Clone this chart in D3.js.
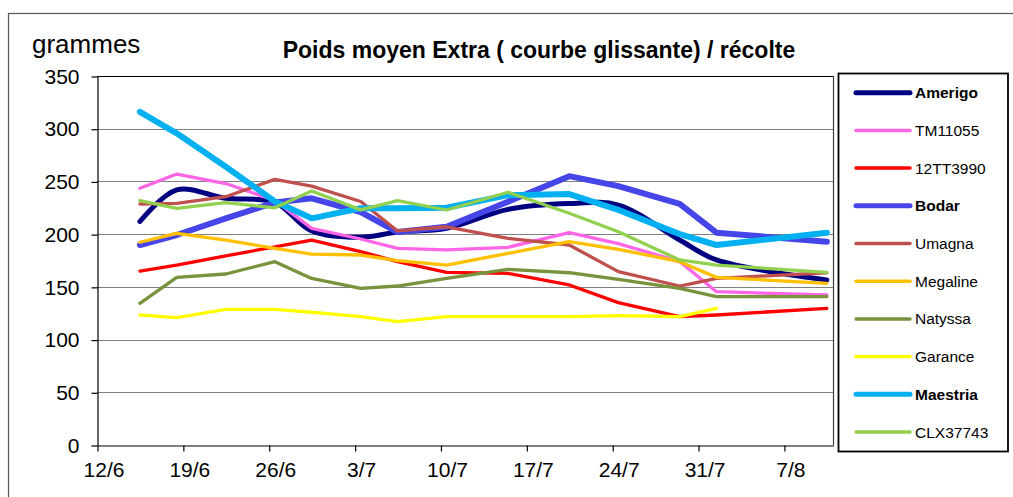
<!DOCTYPE html>
<html><head><meta charset="utf-8">
<script src="https://cdn.jsdelivr.net/npm/d3@7"></script>
<style>body{margin:0;background:#fff}svg{display:block}text{font-family:"Liberation Sans",Arial,sans-serif}</style>
</head><body><svg id="c" width="1013" height="497"></svg>
<script>
// Dates of the points (day/month)
const dates = ["15/6","18/6","22/6","26/6","29/6","3/7","6/7","10/7","15/7","20/7","24/7","29/7","1/8","10/8"];
const xTicks = ["12/6","19/6","26/6","3/7","10/7","17/7","24/7","31/7","7/8"];
const yTicks = [0,50,100,150,200,250,300,350];

const Amerigo  = [212,242,234,230,203,197,202,205.5,223.5,229,227.6,194.4,175.5,156.5];
const TM11055  = [243.5,257,248,232,205.5,195.4,186.5,185,187.5,201.4,191,174,145.4,142.3];
const TT3990   = [165,170.7,179.3,188,194.4,183.4,174,163.8,162.8,151.8,135,121.7,123.3,129.6];
const Bodar    = [189.7,199.2,215,230,234,221,202,207,230.8,255,245.6,228.6,201.4,192.8];
const Umagna   = [228.6,229.2,235.5,252,245.6,231,203,207,196,189.7,164.4,150.8,158,163.4];
const Megaline = [192.3,200.8,194.4,186.5,181,180.2,174.8,170.7,181.8,192.8,185.6,173.9,159,153.4];
const Natyssa  = [134.4,159,162.2,173.9,158,148.6,150.8,158,166.6,163.4,157,148.6,140.7,140.7];
const Garance  = [123.3,120.8,128.7,128.7,125.9,121.7,117,121.7,121.7,121.7,122.7,121.7,129.6,null];
const Maestria = [316,295.6,264,231,215,224.5,224.5,225,237,238,223,200,189.7,201.4];
const CLX37743 = [231.7,224.5,229.9,225,241,223,231.7,222.9,239.7,219.8,202.3,175.5,170.7,163.8];

const seriesNames = ["Amerigo","TM11055","12TT3990","Bodar","Umagna","Megaline","Natyssa","Garance","Maestria","CLX37743"];
const seriesValues = [Amerigo,TM11055,TT3990,Bodar,Umagna,Megaline,Natyssa,Garance,Maestria,CLX37743];
const seriesColors = ["#000080","#FF66E6","#FF0000","#4646E8","#C0504D","#FFC000","#77933C","#FFFF00","#00B0F0","#92D050"];
const seriesWidths = [5,3.3,3.3,6,3.3,3.3,3.3,3.3,6,3.3];
const seriesBold = [true,false,false,true,false,false,false,false,true,false];

const svg = d3.select("#c");
const parse = s => { const [d,m] = s.split("/").map(Number); return Date.UTC(2009, m-1, d); };
const DAY = 86400000;
const pL = 97, pR = 833, pT = 76, pB = 445;
const x = d3.scaleUtc().domain([new Date(parse("12/6")), new Date(parse("11/8"))]).range([pL, pR]);
const y = d3.scaleLinear().domain([0,350]).range([pB, pT]);

// outer frame
svg.append("rect").attr("x",8.5).attr("y",13.5).attr("width",1100).attr("height",600)
  .attr("fill","none").attr("stroke","#555").attr("stroke-width",1.2);

// gridlines
svg.append("g").selectAll("line").data(yTicks.filter(v=>v>0)).join("line")
  .attr("x1",pL).attr("x2",pR).attr("y1",d=>Math.round(y(d))+0.5).attr("y2",d=>Math.round(y(d))+0.5)
  .attr("stroke",d=>d===350?"#000":"#808080").attr("stroke-width",1.2);
// right border
svg.append("line").attr("x1",pR+0.5).attr("x2",pR+0.5).attr("y1",pT).attr("y2",pB)
  .attr("stroke","#404040").attr("stroke-width",1.2);

// y axis
const yAxis = d3.axisLeft(y).tickValues(yTicks).tickSize(6).tickPadding(12).tickSizeOuter(0);
const gy = svg.append("g").attr("transform",`translate(${pL+0.5},0.5)`).call(yAxis);
gy.selectAll("text").attr("font-size",21).attr("fill","#000").attr("font-family","Liberation Sans, Arial, sans-serif");
gy.selectAll("line,path").attr("stroke","#000").attr("stroke-width",1.2);

// x axis
const xAxis = d3.axisBottom(x).tickValues(xTicks.map(s=>new Date(parse(s)))).tickFormat((d,i)=>xTicks[i])
  .tickSize(6).tickPadding(11).tickSizeOuter(0);
const gx = svg.append("g").attr("transform",`translate(0.5,${pB+0.5})`).call(xAxis);
gx.selectAll("text").attr("font-size",21).attr("fill","#000").attr("dx",6).attr("font-family","Liberation Sans, Arial, sans-serif");
gx.selectAll("line,path").attr("stroke","#000").attr("stroke-width",1.2);

// lines
const xPos = s => x(new Date(parse(s) + DAY/2));
seriesValues.forEach((vals,i)=>{
  const pts = dates.map((d,j)=>[d,vals[j]]).filter(p=>p[1]!==null);
  const line = d3.line().x(p=>xPos(p[0])).y(p=>y(p[1]))
    .curve(i===0 ? d3.curveCatmullRom.alpha(0.5) : d3.curveLinear);
  svg.append("path").datum(pts).attr("d",line).attr("fill","none")
    .attr("stroke",seriesColors[i]).attr("stroke-width",seriesWidths[i])
    .attr("stroke-linejoin","round").attr("stroke-linecap","round");
});

// titles
svg.append("text").attr("x",32).attr("y",53).attr("font-size",26).text("grammes");
svg.append("text").attr("x",539).attr("y",58).attr("text-anchor","middle").attr("font-size",23)
  .attr("font-weight","bold").text("Poids moyen Extra ( courbe glissante) / récolte");

// legend
const lg = svg.append("g");
lg.append("rect").attr("x",838.5).attr("y",73.5).attr("width",169.5).attr("height",378)
  .attr("fill","#fff").attr("stroke","#000").attr("stroke-width",1.8);
seriesNames.forEach((n,i)=>{
  const ly = 92.7 + i*37.7;
  lg.append("line").attr("x1",856).attr("x2",910).attr("y1",ly).attr("y2",ly)
    .attr("stroke",seriesColors[i]).attr("stroke-width",seriesBold[i]?5:3.5).attr("stroke-linecap","round");
  lg.append("text").attr("x",915).attr("y",ly+5.5).attr("font-size",15.5)
    .attr("font-weight",seriesBold[i]?"bold":"normal").text(n);
});
</script></body></html>
